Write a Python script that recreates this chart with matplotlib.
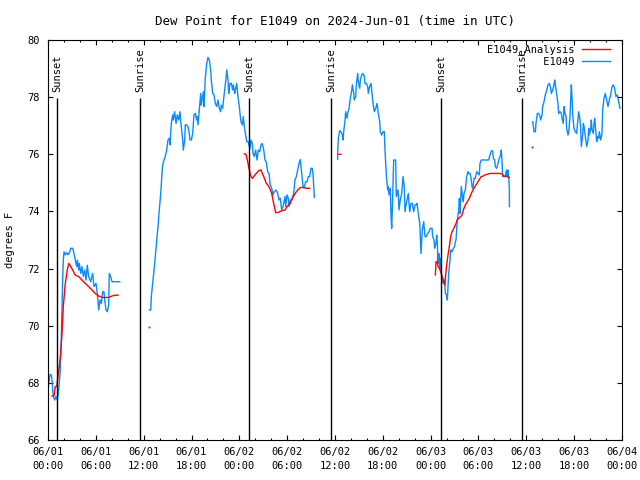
import numpy as np
import matplotlib
matplotlib.use("Agg")
import matplotlib.pyplot as plt

nan = np.nan

# hours after 2024-06-01 00:00 UTC
e1049_hours = [
    0.00, 0.25, 0.42, 0.50, 0.67, 0.84, 1.00, 1.17, 1.34, 1.51, 1.59, 1.67, 1.76, 1.84, 1.92, 2.01,
    2.17, 2.35, 2.51, 2.67, 2.85, 3.10, 3.26, 3.42, 3.60, 3.68, 3.85, 3.93, 4.10, 4.26, 4.43, 4.60,
    4.77, 4.93, 5.10, 5.35, 5.60, 5.77, 6.02, 6.19, 6.36, 6.52, 6.69, 6.86, 7.02, 7.11, 7.28, 7.44,
    7.61, 7.69, 7.86, 8.03, 8.87, 9.00, nan,
    12.71, 12.88, 12.96, 13.13, 13.30, 13.46, 13.64, 13.80, 13.96, 14.14, 14.30, 14.39, 14.55, 14.71,
    14.89, 15.05, 15.22, 15.30, 15.47, 15.64, 15.72, 15.89, 16.06, 16.22, 16.39, 16.56, 16.65, 16.72,
    16.90, 16.97, 17.15, 17.22, 17.40, 17.56, 17.72, 17.81, 17.98, 18.15, 18.31, 18.48, 18.65, 18.73,
    18.82, 18.98, 19.15, 19.23, 19.32, 19.48, 19.57, 19.65, 19.73, 19.91, 20.07, 20.23, 20.41, 20.48,
    20.66, 20.82, 20.99, 21.16, 21.32, 21.49, 21.66, 21.74, 21.91, 21.99, 22.16, 22.33, 22.42, 22.58,
    22.67, 22.74, 22.83, 23.00, 23.16, 23.25, 23.42, 23.50, 23.67, 23.83, 24.00, 24.08, 24.21, 24.37,
    24.50, 24.62, 24.80, 24.92, 25.13, 25.21, 25.34, 25.46, 25.63, 25.72, 25.88, 26.05, 26.22, 26.38,
    26.56, 26.72, 26.88, 27.06, 27.22, 27.38, 27.56, 27.72, 27.88, 28.06, 28.22, 28.39, 28.56, 28.73,
    28.81, 28.98, 29.14, 29.31, 29.48, 29.64, 29.73, 29.82, 29.98, 30.14, 30.23, 30.39, 30.57, 30.82,
    30.98, 31.15, 31.32, 31.49, 31.65, 31.82, 31.99, 32.15, 32.33, 32.49, 32.65, 32.83, 32.99, 33.15,
    33.24, 33.33, 33.41, nan,
    36.33, 36.34, 36.42, 36.59, 36.75, 36.92, 37.00, 37.09, 37.26, 37.34, 37.51, 37.59, 37.76, 37.92,
    38.10, 38.18, 38.35, 38.42, 38.60, 38.67, 38.85, 38.92, 39.10, 39.18, 39.35, 39.51, 39.68, 39.76,
    39.93, 40.10, 40.18, 40.35, 40.52, 40.60, 40.77, 40.93, 41.11, 41.27, 41.43, 41.61, 41.68, 41.86,
    42.02, 42.19, 42.27, 42.44, 42.61, 42.69, 42.77, 42.94, 43.03, 43.11, 43.19, 43.36, 43.61, 43.69,
    43.87, 43.94, 44.03, 44.19, 44.37, 44.53, 44.69, 44.78, 44.95, 45.12, 45.20, 45.37, 45.53, 45.70,
    45.87, 46.04, 46.20, 46.29, 46.45, 46.63, 46.79, 46.95, 47.13, 47.29, 47.45, 47.63, 47.79, 47.96,
    48.17, 48.25, 48.42, 48.50, 48.67, 48.76, 48.83, 48.92, 49.01, 49.08, 49.17, 49.26, 49.33, 49.42,
    49.59, 49.76, 49.84, 50.01, 50.09, 50.18, 50.26, 50.43, 50.51, 50.68, 50.84, 51.01, 51.09, 51.18,
    51.34, 51.52, 51.60, 51.68, 51.77, 51.84, 52.02, 52.10, 52.18, 52.35, 52.43, 52.52, 52.68, 52.77,
    52.94, 53.10, 53.19, 53.27, 53.35, 53.44, 53.60, 53.78, 53.94, 54.10, 54.19, 54.35, 54.78, 55.28,
    55.44, 55.61, 55.78, 55.86, 56.03, 56.11, 56.28, 56.45, 56.61, 56.79, 56.86, 56.95, 57.03, 57.20,
    57.37, 57.45, 57.54, 57.61, 57.70, 57.78, 57.87, 57.88, nan,
    60.80, 60.88, 60.96, 61.13, 61.21, 61.38, 61.55, 61.72, 61.80, 61.97, 62.05, 62.22, 62.38, 62.56,
    62.72, 62.88, 63.06, 63.14, 63.31, 63.47, 63.56, 63.72, 63.81, 63.97, 64.06, 64.22, 64.39, 64.48,
    64.64, 64.73, 64.81, 64.98, 65.06, 65.23, 65.32, 65.48, 65.64, 65.73, 65.81, 65.98, 66.14, 66.32,
    66.40, 66.57, 66.73, 66.82, 66.90, 67.07, 67.15, 67.24, 67.40, 67.57, 67.74, 67.82, 67.90, 68.08,
    68.15, 68.24, 68.40, 68.49, 68.57, 68.74, 68.83, 68.90, 69.08, 69.16, 69.33, 69.49, 69.58, 69.74,
    69.91, 70.08, 70.24, 70.41, 70.58, 70.75, 70.91, 71.08, 71.24, 71.41, 71.58, 71.75,
]
e1049_dewpt = [
    67.75, 68.30, 68.27, 68.10, 67.52, 67.40, 67.52, 67.40, 67.75, 68.33, 68.92, 69.62, 70.67, 71.60, 72.30, 72.59,
    72.48, 72.56, 72.48, 72.53, 72.71, 72.71, 72.53, 72.30, 72.07, 72.30, 71.95, 72.18, 71.83, 72.07, 71.72, 71.95,
    71.60, 72.12, 71.72, 71.54, 71.83, 71.37, 71.48, 71.13, 70.55, 70.90, 70.78, 71.19, 71.19, 70.90, 70.55, 70.49,
    70.72, 71.83, 71.72, 71.54, 71.54, 71.54, nan,
    70.55, 70.55, 71.02, 71.48, 71.95, 72.42, 73.00, 73.47, 74.05, 74.63, 75.33, 75.63, 75.80, 75.92,
    76.15, 76.50, 76.56, 76.33, 77.08, 77.38, 77.20, 77.49, 77.08, 77.38, 77.20, 77.49, 77.14, 76.97,
    76.50, 76.15, 76.50, 77.03, 77.03, 76.97, 76.73, 76.50, 76.50, 76.73, 77.38, 77.43, 77.20, 77.32,
    77.03, 77.55, 78.13, 77.72, 77.90, 78.19, 77.67, 78.13, 78.66, 79.18, 79.39, 79.30, 78.95, 78.60,
    78.13, 78.08, 77.78, 77.67, 77.90, 77.61, 77.49, 77.72, 77.61, 77.84, 78.25, 78.66, 78.95, 78.60,
    78.13, 78.31, 78.48, 78.48, 78.25, 78.43, 78.13, 78.25, 78.48, 78.02, 77.67, 77.43, 77.14, 77.03,
    77.32, 76.97, 76.67, 76.44, 76.44, 76.33, 76.21, 76.50, 76.38, 76.03, 75.92, 76.15, 75.80, 76.15,
    76.09, 76.33, 76.38, 76.15, 75.80, 75.74, 75.39, 75.33, 74.93, 74.81, 74.58, 74.69, 74.75, 74.69,
    74.63, 74.40, 74.46, 74.05, 74.17, 74.40, 74.52, 74.17, 74.58, 74.46, 74.17, 74.40, 74.40, 74.63,
    75.10, 75.22, 75.45, 75.68, 75.82, 75.33, 74.87, 74.87, 75.04, 75.04, 75.22, 75.22, 75.51, 75.51,
    75.33, 74.87, 74.49, nan,
    75.82, 76.09, 76.56, 76.83, 76.79, 76.67, 76.50, 76.79, 77.20, 77.49, 77.26, 77.43, 77.61, 77.96,
    78.25, 78.43, 78.13, 77.90, 78.02, 78.43, 78.83, 78.54, 78.31, 78.60, 78.78, 78.83, 78.72, 78.48,
    78.48, 78.37, 78.13, 78.37, 78.48, 78.25, 77.78, 77.49, 77.61, 77.78, 77.43, 77.14, 76.79, 76.67,
    76.79, 76.79, 76.15, 75.28, 74.75, 74.87, 74.58, 74.81, 73.82, 73.41, 74.05, 75.80, 75.80, 74.52,
    74.75, 74.63, 74.05, 74.40, 74.63, 75.22, 74.87, 73.99, 74.28, 74.52, 74.63, 73.99, 74.28, 74.28,
    73.99, 74.23, 74.23, 74.28, 73.93, 73.58, 72.53, 73.35, 73.64, 73.12, 73.12, 73.23, 73.29, 73.41,
    73.41, 73.12, 73.00, 72.71, 72.88, 73.17, 72.88, 72.18, 72.53, 72.42, 72.01, 72.36, 71.95, 71.60,
    71.48, 71.60, 71.13, 71.07, 70.90, 71.37, 71.83, 72.30, 72.65, 72.59, 72.71, 72.77, 72.94, 73.00,
    73.70, 74.05, 74.46, 73.93, 74.40, 74.87, 74.46, 74.34, 74.63, 74.75, 74.98, 75.22, 75.39, 75.33,
    75.33, 75.10, 74.87, 74.81, 74.93, 75.16, 75.16, 75.39, 75.33, 75.28, 75.68, 75.80, 75.80, 75.80,
    75.98, 76.12, 76.12, 75.86, 75.80, 75.57, 75.51, 75.68, 75.86, 75.98, 76.15, 75.74, 75.22, 75.22,
    75.22, 75.39, 75.45, 75.22, 75.45, 75.22, 74.81, 74.17, nan,
    77.14, 76.99, 76.79, 76.79, 77.08, 77.43, 77.43, 77.32, 77.20, 77.38, 77.67, 77.84, 78.08, 78.25,
    78.43, 78.48, 78.31, 78.13, 78.25, 78.43, 78.60, 78.25, 78.08, 77.78, 77.43, 77.49, 77.43, 77.26,
    77.08, 77.67, 77.49, 77.32, 76.91, 76.67, 76.79, 77.32, 78.43, 78.02, 77.38, 76.91, 76.79, 76.73,
    77.03, 77.49, 77.20, 76.91, 76.27, 76.67, 77.08, 76.97, 76.62, 76.27, 76.50, 76.91, 76.67, 76.91,
    77.20, 76.85, 76.73, 77.08, 77.26, 76.73, 76.44, 76.62, 76.56, 76.79, 76.50, 76.73, 77.55, 77.96,
    78.13, 77.90, 77.67, 77.90, 78.08, 78.37, 78.43, 78.31, 78.02, 78.08, 77.84, 77.61,
]

analysis_hours = [
    0.50, 0.75, 0.92, 1.09, 1.25, 1.42, 1.59, 1.76, 1.92, 2.17, 2.42, 2.60, 2.85, 3.10, 3.42, 3.85,
    4.26, 4.68, 5.10, 5.52, 5.93, 6.36, 6.77, 7.19, 7.61, 8.03, 8.44, 8.78, nan,
    12.71, nan,
    24.62, 24.80, 24.96, 25.13, 25.30, 25.46, 25.63, 25.80, 25.97, 26.22, 26.47, 26.72, 26.88, 27.06,
    27.22, 27.38, 27.56, 27.81, 28.06, 28.22, 28.39, 28.56, 28.81, 29.06, 29.39, 29.73, 29.98, 30.23,
    30.39, 30.65, 30.90, 31.15, 31.40, 31.65, 32.07, 32.49, 32.83, nan,
    36.50, 36.75, nan,
    48.59, 48.67, 48.83, 48.92, 49.09, 49.26, 49.42, 49.59, 49.76, 49.84, 50.01, 50.18, 50.34, 50.51,
    50.68, 50.84, 51.01, 51.18, 51.34, 51.52, 51.77, 51.93, 52.10, 52.35, 52.60, 52.85, 53.10, 53.35,
    53.60, 53.85, 54.10, 54.35, 54.60, 54.85, 55.10, 55.44, 55.86, 56.28, 56.70, 56.95, 57.20, 57.54,
    57.87, nan,
    60.73,
]
analysis_dewpt = [
    67.54, 67.54, 67.87, 67.87, 68.22, 68.57, 69.03, 69.73, 70.67, 71.48, 71.95, 72.18, 72.07, 71.95, 71.77, 71.72,
    71.60, 71.48, 71.37, 71.25, 71.13, 71.04, 70.99, 70.99, 70.99, 71.04, 71.07, 71.07, nan,
    69.94, nan,
    76.01, 76.01, 75.86, 75.63, 75.39, 75.22, 75.16, 75.22, 75.28, 75.36, 75.43, 75.45, 75.33, 75.22,
    75.10, 74.98, 74.93, 74.81, 74.63, 74.40, 74.17, 73.96, 73.96, 73.99, 74.03, 74.05, 74.17, 74.23,
    74.28, 74.46, 74.58, 74.69, 74.77, 74.84, 74.83, 74.81, 74.81, nan,
    76.00, 76.00, nan,
    71.78, 72.24, 72.24, 72.07, 72.01, 71.89, 71.72, 71.60, 71.42, 71.66, 72.13, 72.48, 72.77, 73.12,
    73.29, 73.37, 73.47, 73.58, 73.70, 73.76, 73.82, 73.87, 74.05, 74.23, 74.34, 74.46, 74.63, 74.77,
    74.89, 75.00, 75.12, 75.22, 75.24, 75.28, 75.30, 75.33, 75.33, 75.33, 75.33, 75.31, 75.24, 75.22,
    75.19, nan,
    76.24,
]

event_hours = [1.13, 11.54, 25.20, 35.50, 49.30, 59.50]
event_names = ["Sunset", "Sunrise", "Sunset", "Sunrise", "Sunset", "Sunrise"]

tick_hours = list(range(0, 73, 6))
tick_labels = ["06/01\n00:00", "06/01\n06:00", "06/01\n12:00", "06/01\n18:00",
               "06/02\n00:00", "06/02\n06:00", "06/02\n12:00", "06/02\n18:00",
               "06/03\n00:00", "06/03\n06:00", "06/03\n12:00", "06/03\n18:00",
               "06/04\n00:00"]

plt.rcParams['font.family'] = ['DejaVu Sans Mono']
plt.rcParams['font.size'] = 7.5

fig = plt.figure(figsize=(6.4, 4.8), dpi=100)
ax = fig.add_axes([48 / 640, 40 / 480, 574 / 640, 400 / 480])

blue = '#0a8aff'
red = '#ff0000'

hb, = ax.plot(e1049_hours, e1049_dewpt, color=blue, lw=1.0)
ha, = ax.plot(analysis_hours, analysis_dewpt, color=red, lw=1.0)

# single readings with no neighbours would not show as a line
ah = np.array(analysis_hours)
av = np.array(analysis_dewpt)
prev_nan = np.isnan(np.r_[nan, av[:-1]])
next_nan = np.isnan(np.r_[av[1:], nan])
lone = prev_nan & next_nan & ~np.isnan(av)
ax.plot(ah[lone], av[lone], 's', color=red, ms=1.3, mew=0)

for h, name in zip(event_hours, event_names):
    ax.vlines(h, 66, 77.97, color='black', lw=1.0)
    ax.text(h, 78.18, name, rotation=90, ha='center', va='bottom')

ax.set_xlim(0, 72)
ax.set_ylim(66, 80)
ax.set_xticks(tick_hours)
ax.set_xticklabels(tick_labels)
for lab in ax.get_xticklabels():
    lab.set_linespacing(1.45)
ax.set_xticks(range(0, 73, 2), minor=True)
ax.set_yticks(range(66, 81, 2))
ax.tick_params(which='both', direction='in', top=True, right=True, width=0.8)
ax.tick_params(which='major', length=3.3)
ax.tick_params(which='minor', length=1.7)
ax.tick_params(axis='x', pad=5)
ax.tick_params(axis='y', pad=6)
for s in ax.spines.values():
    s.set_linewidth(0.8)

ax.set_ylabel('degrees F')
ax.yaxis.set_label_coords(-0.057, 0.5)
ax.set_title('Dew Point for E1049 on 2024-Jun-01 (time in UTC)', pad=11)

labels = ['E1049_Analysis', 'E1049']
w = max(len(s) for s in labels)
ax.legend([ha, hb], [s.rjust(w) for s in labels], loc='upper right',
          bbox_to_anchor=(0.995, 1.012), frameon=False, markerfirst=False,
          handlelength=2.7, handletextpad=0.7, labelspacing=0.15, borderpad=0.6,
          borderaxespad=0.3)

fig.savefig('out.png', dpi=100)
